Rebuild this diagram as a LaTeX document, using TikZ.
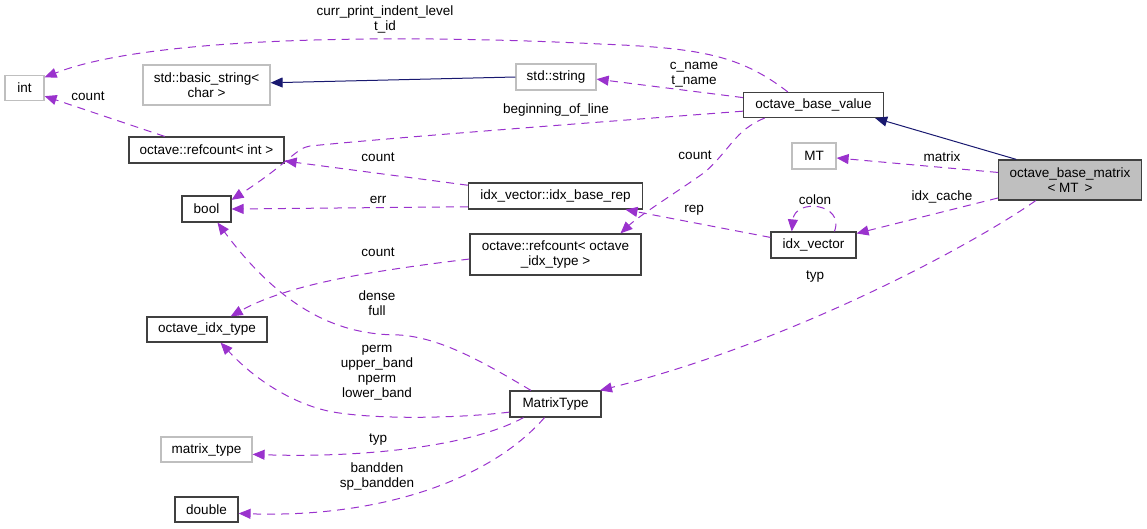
\documentclass[tikz,border=0pt]{standalone}
\usepackage{fontspec}
\setmainfont{Liberation Sans}
\usetikzlibrary{arrows.meta}
\definecolor{useedge}{HTML}{9A32CD}
\definecolor{inhedge}{HTML}{191970}
\definecolor{extline}{HTML}{BFBFBF}
\definecolor{boxline}{HTML}{404040}

\begin{document}
\begin{tikzpicture}[x=1pt, y=-1pt,
  font=\fontsize{13.5}{15}\selectfont,
  cls/.style={draw=boxline, line width=1.2pt, inner sep=0pt, align=center},
  ext/.style={draw=extline, line width=1.2pt, inner sep=0pt, align=center},
  uses/.style={draw=useedge, line width=1pt, dash pattern=on 8pt off 6pt,
    -{Triangle[length=12pt, width=10pt]}},
  inh/.style={draw=inhedge, line width=1pt, -{Triangle[length=12pt, width=10pt]}},
  lbl/.style={align=center, inner sep=0pt}]
\useasboundingbox (0,0) rectangle (1147,528);
% classes, left column
\node[ext, minimum width=39pt, minimum height=25pt] (int) at (24.5,88) {int};
\node[ext, minimum width=127pt, minimum height=40pt] (bstr) at (206.5,85) {std::basic\_string<\\char >};
\node[cls, minimum width=155pt, minimum height=26pt] (rcint) at (206.5,150) {octave::refcount< int >};
\node[cls, minimum width=49pt, minimum height=26pt] (bool) at (206.5,209) {bool};
\node[cls, minimum width=120pt, minimum height=25pt] (oit) at (207,329.5) {octave\_idx\_type};
\node[ext, minimum width=91pt, minimum height=25pt] (mtype) at (206.5,449.5) {matrix\_type};
\node[cls, minimum width=63pt, minimum height=25pt] (dbl) at (206.5,509.5) {double};
% middle column
\node[ext, minimum width=80pt, minimum height=26pt] (str) at (556,77) {std::string};
\node[cls, minimum width=174pt, minimum height=26pt] (ibr) at (555.5,196) {idx\_vector::idx\_base\_rep};
\node[cls, minimum width=171pt, minimum height=41pt] (rcidx) at (555.5,254.5) {octave::refcount< octave\\\_idx\_type >};
\node[cls, minimum width=91pt, minimum height=26pt] (mtyp) at (555.5,404) {MatrixType};
% right side
\node[cls, minimum width=140pt, minimum height=25pt] (obv) at (813.5,105) {octave\_base\_value};
\node[ext, minimum width=44pt, minimum height=26pt] (MT) at (814,156) {MT};
\node[cls, minimum width=85pt, minimum height=26pt] (iv) at (813.5,245) {idx\_vector};
\node[cls, fill=extline, minimum width=143pt, minimum height=40pt] (obm) at (1070,180) {octave\_base\_matrix\\< MT \,>};
% inheritance
\draw[inh] (str.west) -- (bstr.2);
\draw[inh] (obm.159) -- (obv.-12);
% members
\draw[uses] (obv.153) .. controls (740,55) and (700,48) .. (600,44) .. controls (400,34) and (150,36) .. (int.28);
\draw[uses] (obv.174) -- (str.-3);
\draw[uses] (obv.185) .. controls (600,122) and (400,137) .. (310,146) .. controls (296,148) and (290,162) .. (bool.20);
\draw[uses] (rcint.162) -- (int.-22);
\draw[uses] (ibr.173) -- (rcint.-8);
\draw[uses] (ibr.187) -- (bool.east);
\draw[uses] (obv.195) .. controls (735,130) and (730,150) .. (705,172) .. controls (680,190) and (640,215) .. (rcidx.18);
\draw[uses] (obm.174) -- (MT.-5);
\draw[uses] (obm.194) -- (iv.15);
\draw[uses] (iv.33) .. controls (845,203) and (795,198) .. (iv.148);
\draw[uses] (iv.170) -- (ibr.-11);
\draw[uses] (obm.211) .. controls (980,240) and (800,340) .. (mtyp.17);
\draw[uses] (rcidx.183) .. controls (380,270) and (290,283) .. (oit.29);
\draw[uses] (mtyp.151) .. controls (480,360) and (440,338) .. (400,335) .. controls (350,335) and (290,320) .. (bool.-51);
\draw[uses] (mtyp.190) .. controls (460,418) and (380,420) .. (333,412) .. controls (300,406) and (260,385) .. (oit.-44);
\draw[uses] (mtyp.203) .. controls (470,447) and (360,458) .. (mtype.-6);
\draw[uses] (mtyp.231) .. controls (490,480) and (380,518) .. (dbl.-7);
% edge labels
\node[lbl] (lcurr) at (385,19.5) {curr\_print\_indent\_level\\t\_id};
\node[lbl] (lname) at (694,75) {c\_name\\t\_name};
\node[lbl] (lbol) at (556,110) {beginning\_of\_line};
\node[lbl] (lcnta) at (88,96) {count};
\node[lbl] (lcntb) at (378,157) {count};
\node[lbl] (lerr) at (378,200) {err};
\node[lbl] (lcntc) at (695,155) {count};
\node[lbl] (lmat) at (942,157) {matrix};
\node[lbl] (lcache) at (942,197) {idx\_cache};
\node[lbl] (lcolon) at (815,200) {colon};
\node[lbl] (lrep) at (694,210) {rep};
\node[lbl] (ltypa) at (815,277) {typ};
\node[lbl] (lcntd) at (378,252) {count};
\node[lbl] (ldense) at (377,303.5) {dense\\full};
\node[lbl] (lperm) at (377,373) {perm\\upper\_band\\nperm\\lower\_band};
\node[lbl] (ltypb) at (378,440) {typ};
\node[lbl] (lband) at (377,476.5) {bandden\\sp\_bandden};
\end{tikzpicture}
\end{document}
